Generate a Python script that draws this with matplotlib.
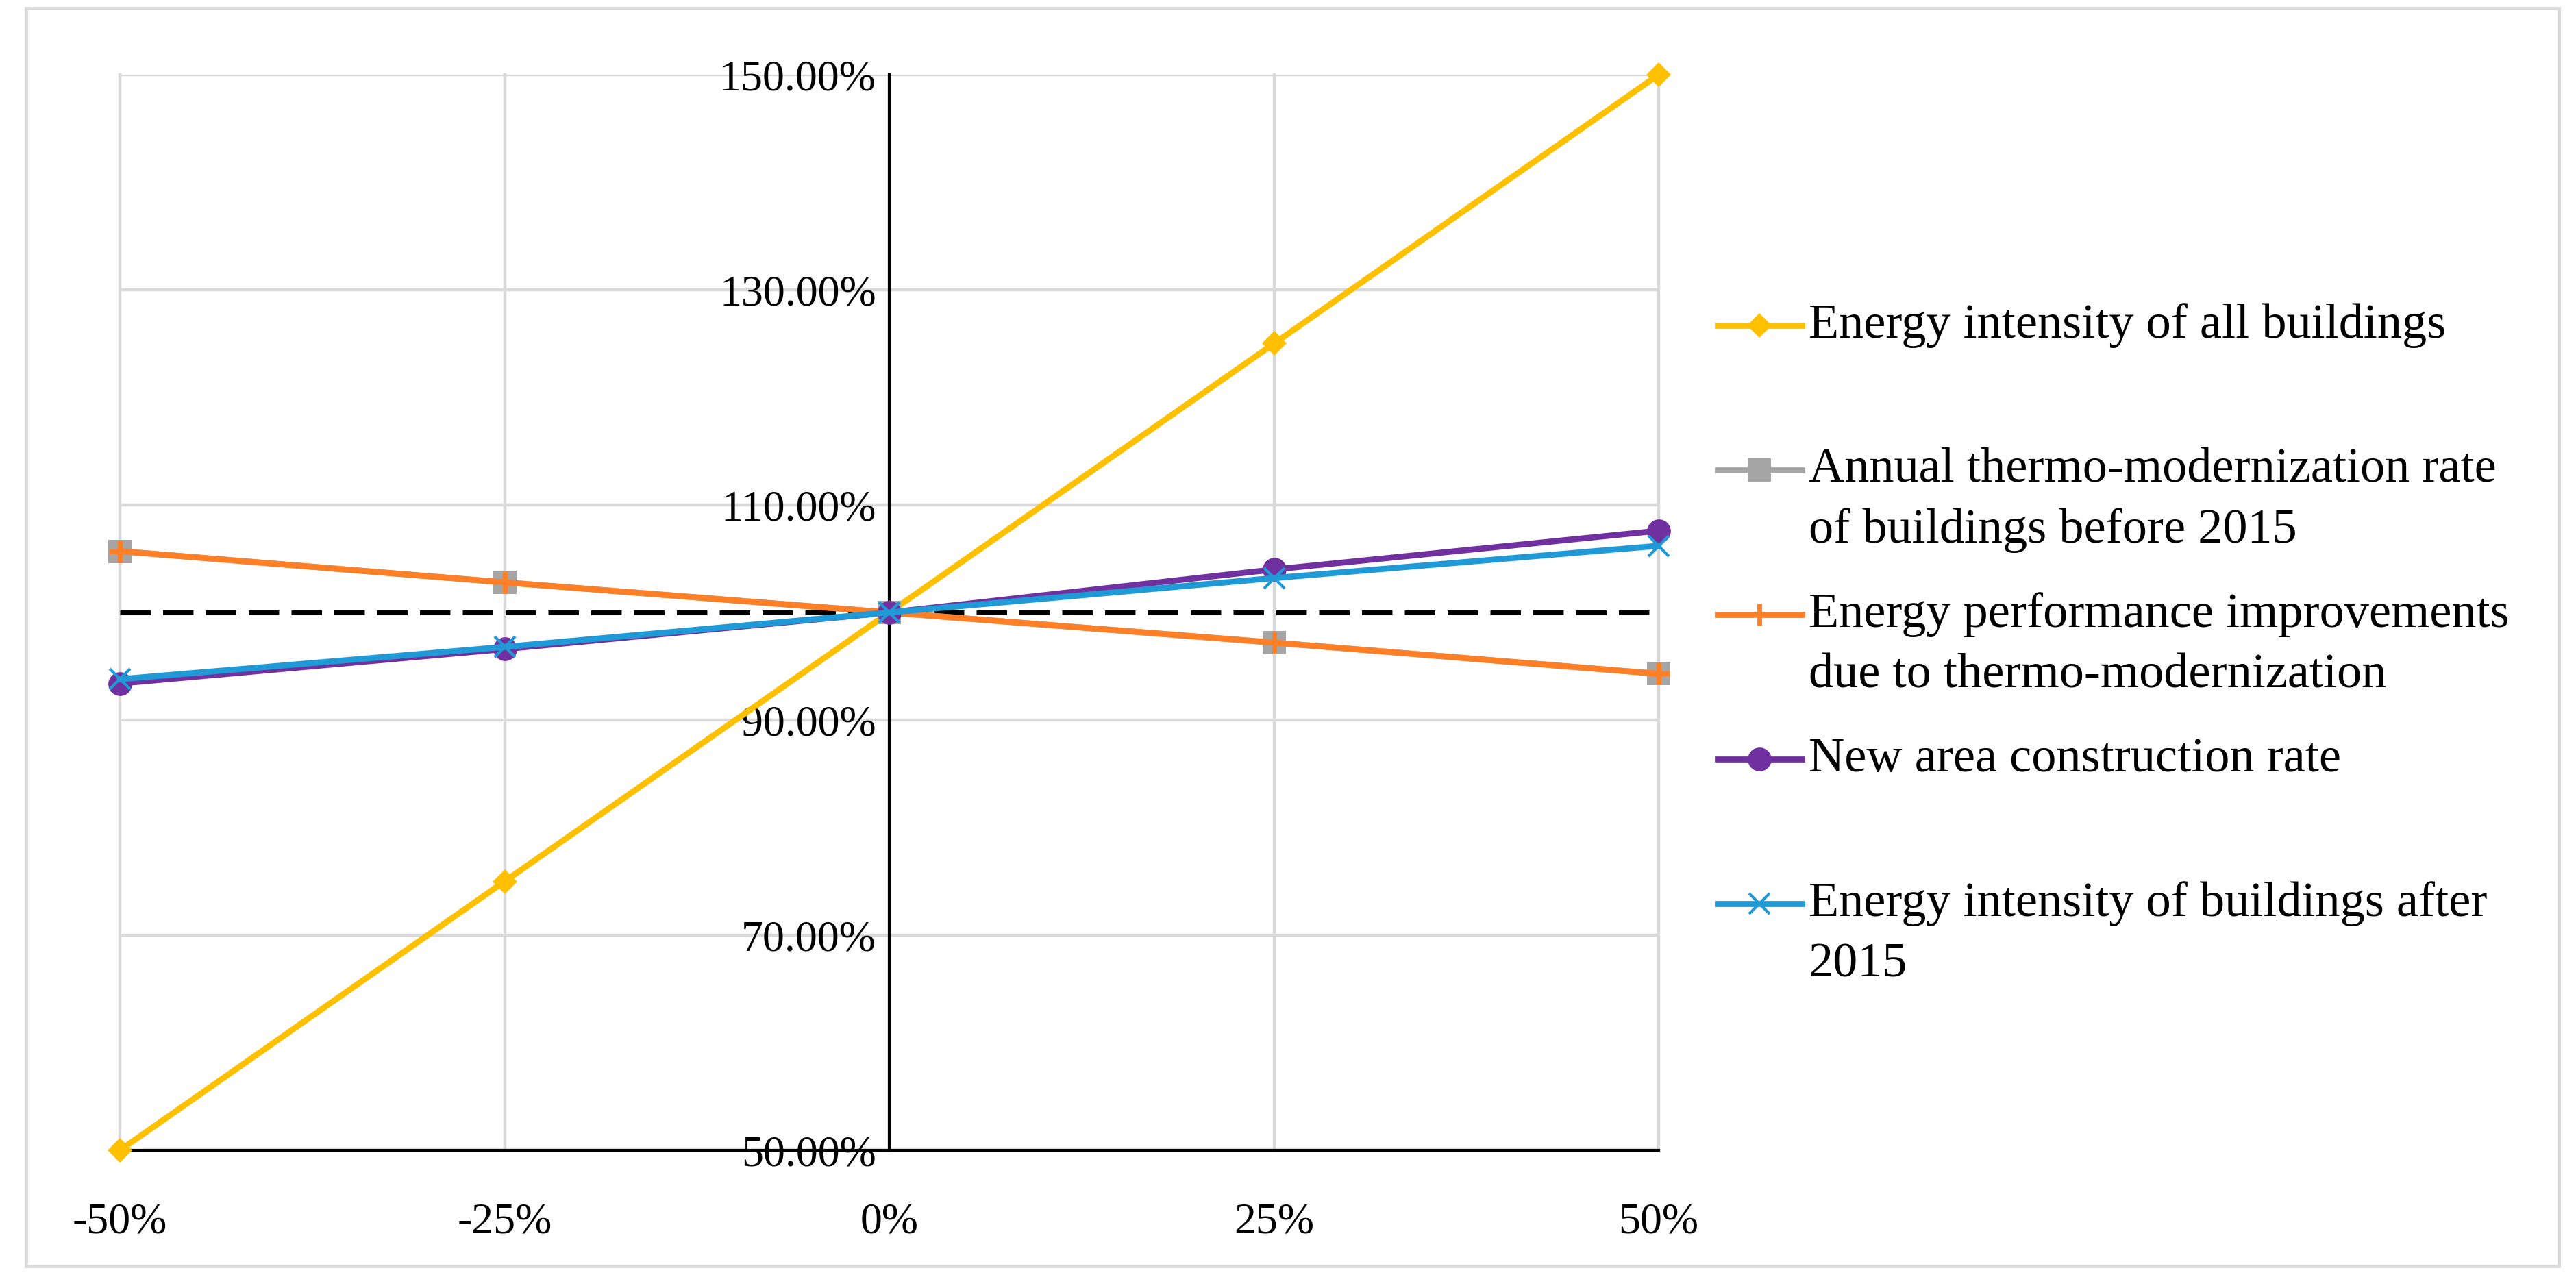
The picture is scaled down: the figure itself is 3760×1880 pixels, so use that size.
import matplotlib
matplotlib.use("Agg")
import matplotlib.pyplot as plt
from matplotlib.patches import Rectangle

# sensitivity of each parameter (x) vs resulting change (y, % of base)
x_vals = [-50, -25, 0, 25, 50]
x_labels = ["-50%", "-25%", "0%", "25%", "50%"]
y_ticks = [50, 70, 90, 110, 130, 150]

energy_all = [50, 75, 100, 125, 150]
thermo_rate = [105.7, 102.8, 100, 97.2, 94.3]
perf_improve = [105.7, 102.8, 100, 97.2, 94.3]
new_area = [93.4, 96.6, 100, 104.0, 107.6]
after_2015 = [93.8, 96.8, 100, 103.2, 106.2]

names = ["Energy intensity of all buildings",
         "Annual thermo-modernization rate\nof buildings before 2015",
         "Energy performance improvements\ndue to thermo-modernization",
         "New area construction rate",
         "Energy intensity of buildings after\n2015"]

plt.rcParams["font.family"] = ["Liberation Serif", "DejaVu Serif"]
plt.rcParams["lines.scale_dashes"] = False

W, H = 3760, 1880
fig = plt.figure(figsize=(W / 100, H / 100), dpi=100)

# overlay in pixel coords for the frame and the legend
lax = fig.add_axes([0, 0, 1, 1])
lax.set_xlim(0, W)
lax.set_ylim(H, 0)
lax.axis("off")
lax.add_patch(Rectangle((38, 12), 3735 - 38, 1848 - 12, fill=False,
                        edgecolor="#d9d9d9", lw=3.5))

ax = fig.add_axes([175 / W, 1 - 1679 / H, (2421 - 175) / W, (1679 - 109) / H])
ax.patch.set_alpha(0)

styles = [
    dict(color="#FFC000", marker="D", ms=18, mew=0),
    dict(color="#A5A5A5", marker="s", ms=25, mew=0),
    dict(color="#FF7F27", marker="+", ms=23, mew=5),
    dict(color="#7030A0", marker="o", ms=25, mew=0),
    dict(color="#1F9AD6", marker="x", ms=21, mew=3),
]
series = [energy_all, thermo_rate, perf_improve, new_area, after_2015]

ax.axhline(100, color="black", lw=5, linestyle=(0, (32, 13)), zorder=2.6)
for ys, st in zip(series, styles):
    ax.plot(x_vals, ys, lw=6.3, clip_on=False, zorder=3, **st)

ax.set_xlim(-50, 50)
ax.set_ylim(50, 150)
ax.set_xticks(x_vals, x_labels)
ax.set_yticks(y_ticks, ["%.2f%%" % v for v in y_ticks])
ax.grid(True, color="#d9d9d9", lw=3.2, zorder=0)
for gl in ax.get_xgridlines() + ax.get_ygridlines():
    gl.set_clip_on(False)
ax.set_axisbelow(True)

ax.spines["top"].set_visible(False)
ax.spines["right"].set_visible(False)
ax.spines["left"].set_position(("data", 0))
ax.spines["left"].set_linewidth(3)
ax.spines["bottom"].set_linewidth(3)
ax.spines["left"].set_zorder(2.5)
ax.tick_params(axis="x", length=0, pad=55, labelsize=46)
ax.tick_params(axis="y", length=0, pad=14, labelsize=46)

# legend, marker aligned with first text line
for i, (name, st) in enumerate(zip(names, styles)):
    y = 475 + 211 * i
    lax.plot([2507, 2630], [y, y], color=st["color"], lw=6.3)
    lax.plot([2568], [y], linestyle="none", **st)
    for k, line in enumerate(name.split("\n")):
        lax.text(2640, y + 18 + 88 * k, line, fontsize=52, va="baseline",
                 ha="left", color="black")

fig.savefig("out.png", dpi=100)
